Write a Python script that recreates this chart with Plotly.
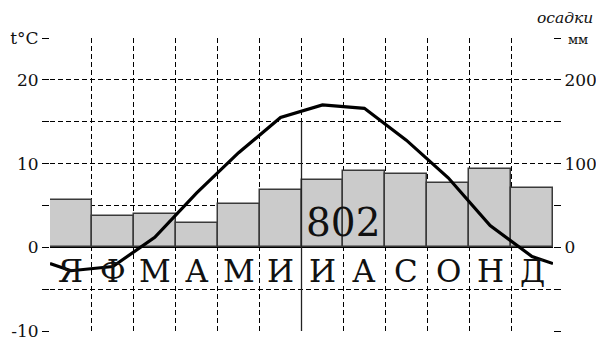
import plotly.graph_objects as go

months = ["Я", "Ф", "М", "А", "М", "И", "И", "А", "С", "О", "Н", "Д"]
temperature = [-2.8, -2.3, 1.2, 6.5, 11.3, 15.5, 17.0, 16.6, 12.8, 8.3, 2.6, -1.1]
precipitation = [57, 37, 40, 29, 52, 69, 80, 91, 87, 77, 93, 71]
annual_total = "802"
temp_ticks = [-10, -5, 0, 5, 10, 15, 20, 25]
temp_labels = ["-10", "", "0", "", "10", "", "20", "t°C"]
prec_ticks = [-100, -50, 0, 50, 100, 150, 200, 250]
prec_labels = ["", "", "0", "", "100", "", "200", ""]

x = list(range(1, 13))
# line continues to the chart edges (Dec/Jan transition)
edge = (temperature[0] + temperature[-1]) / 2
line_x = [0.5] + x + [12.5]
line_y = [edge] + temperature + [edge]

SERIF = "DejaVu Serif"
DASH = "5px,3px"

fig = go.Figure()
# precipitation bars on primary axis (right side)
fig.add_trace(go.Bar(
    x=x, y=precipitation, yaxis="y", width=1,
    marker=dict(color="#cbcbcb", line=dict(color="#3a3a3a", width=1.5)),
    showlegend=False, hoverinfo="skip",
))
# temperature line on overlaying axis (left side), drawn on top
fig.add_trace(go.Scatter(
    x=line_x, y=line_y, mode="lines", yaxis="y2",
    line=dict(color="black", width=3.2),
    showlegend=False, hoverinfo="skip",
))

for xi, m in zip(x, months):
    fig.add_annotation(x=xi, y=-2.8, xref="x", yref="y2", text=m, showarrow=False,
                       font=dict(family=SERIF, size=31, color="#111"))

fig.add_annotation(x=7.5, y=3.0, xref="x", yref="y2", text=annual_total, showarrow=False,
                   font=dict(family=SERIF, size=39, color="#111"))

# solid vertical line at the Jun/Jul boundary
fig.add_shape(type="line", x0=6.5, x1=6.5, y0=-10, y1=15, xref="x", yref="y2",
              line=dict(color="#222", width=1.3), layer="above")

fig.add_annotation(xref="paper", yref="paper", x=1.074, y=0.995, xanchor="right",
                   yanchor="middle", text="мм", showarrow=False,
                   font=dict(family=SERIF, size=13, color="#111"))
fig.add_annotation(xref="paper", yref="paper", x=1.084, y=1.068, xanchor="right",
                   yanchor="middle", text="<i>осадки</i>", showarrow=False,
                   font=dict(family=SERIF, size=15.5, color="#111"))

fig.update_layout(
    width=596, height=335,
    margin=dict(l=42, r=51, t=30, b=12, autoexpand=False),
    paper_bgcolor="white", plot_bgcolor="white",
    bargap=0,
    xaxis=dict(range=[0.5, 12.5], tickvals=[i + 0.5 for i in range(0, 13)],
               showticklabels=False, ticks="", showgrid=True, automargin=False,
               gridcolor="black", griddash=DASH, gridwidth=1,
               zeroline=False, showline=False),
    yaxis=dict(range=[-100, 250], side="right", automargin=False,
               tickvals=prec_ticks, ticktext=prec_labels,
               ticks="outside", ticklen=7, tickcolor="black", tickwidth=1,
               showgrid=True, gridcolor="black", griddash=DASH, gridwidth=1,
               zeroline=True, zerolinecolor="black", zerolinewidth=1.2,
               showline=False,
               tickfont=dict(family=SERIF, size=17, color="#111")),
    yaxis2=dict(range=[-10, 25], overlaying="y", side="left", automargin=False,
                tickvals=temp_ticks, ticktext=temp_labels,
                ticks="outside", ticklen=7, tickcolor="black", tickwidth=1,
                showgrid=False, zeroline=False, showline=False,
                tickfont=dict(family=SERIF, size=17, color="#111")),
)

fig.write_html("out.html")
